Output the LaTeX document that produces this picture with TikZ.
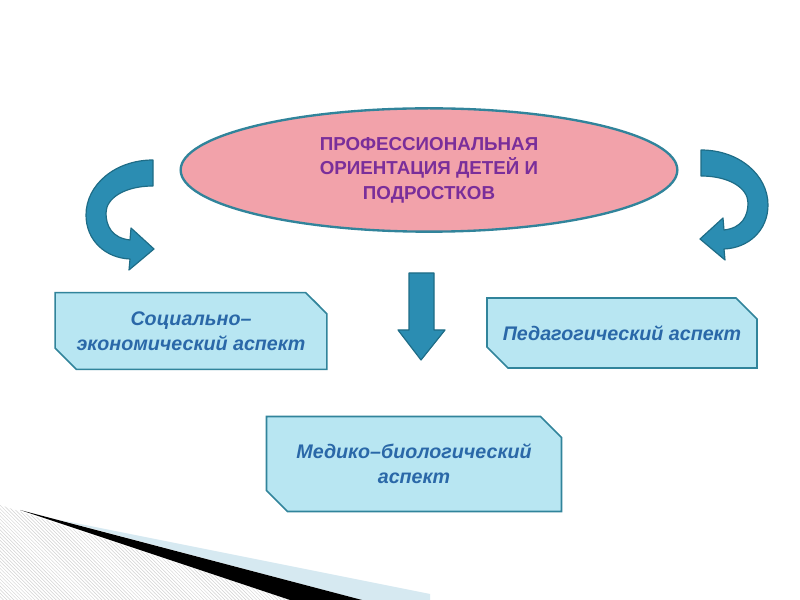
\documentclass[tikz,border=0pt]{standalone}
\usepackage{fontspec}
\newfontfamily\slidefont{Liberation Sans}
\usepackage{tikz}
\usetikzlibrary{positioning,shapes.geometric,shapes.misc,patterns}
\definecolor{SlideTeal}{HTML}{31849B}
\definecolor{SlidePink}{HTML}{F2A2AA}
\definecolor{SlidePurple}{HTML}{7A2E9A}
\definecolor{SlideSky}{HTML}{B8E6F2}
\definecolor{SlideBlue}{HTML}{2A68A8}
\definecolor{ArrowFill}{HTML}{2B8DB2}
\definecolor{ArrowRim}{HTML}{1E6C86}
\definecolor{BandBlue}{HTML}{D6E9F1}

\begin{document}
\begin{tikzpicture}[
  x=0.03cm,y=-0.03cm,
  topic/.style={ellipse,draw=SlideTeal,line width=2pt,fill=SlidePink,minimum width=14.9cm,minimum height=3.7cm,align=center,text=SlidePurple,font=\slidefont\bfseries\fontsize{16}{20.8}\selectfont},
  aspect/.style={chamfered rectangle,chamfered rectangle corners={north east,south west},chamfered rectangle xsep=9pt,chamfered rectangle ysep=9pt,draw=SlideTeal,line width=1.4pt,fill=SlideSky,align=center,text=SlideBlue,font=\slidefont\bfseries\itshape\fontsize{16.8}{21.5}\selectfont},
  blockarrow/.style={draw=ArrowRim,line width=1pt,fill=ArrowFill,line join=round}
]
  \useasboundingbox[fill=white] (0,0) rectangle (800,600);

  % corner decoration
  \fill[pattern=north west lines,pattern color=gray!35] (0,505) -- (290,600) -- (0,600) -- cycle;
  \fill[BandBlue] (60,520) -- (430,594) -- (430,600) -- (362,600) -- cycle;
  \fill[black] (20,510) -- (362,600) -- (290,600) -- cycle;

  \node[topic] (topic) at (429,170) {ПРОФЕССИОНАЛЬНАЯ\\ОРИЕНТАЦИЯ ДЕТЕЙ И\\ПОДРОСТКОВ};
  \node[aspect,minimum width=8.15cm,minimum height=2.3cm] (social) at (191,331) {Социально–\\экономический аспект};
  \node[aspect,minimum width=8.1cm,minimum height=2.1cm] (pedag) at (622,333) {Педагогический аспект};
  \node[aspect,minimum width=8.85cm,minimum height=2.85cm] (medic) at (414,464) {Медико–биологический\\аспект};

  % bent arrows at both sides of the topic
  \foreach \sx/\dy in {1/0,-1/-10}{
    \begin{scope}[shift={(427,\dy)},xscale=\sx]
      \draw[blockarrow] (-274,160) .. controls (-312,160) and (-341,185) .. (-341,215)
        .. controls (-341,240) and (-322,258) .. (-297,259)
        -- (-298,270) -- (-273,249) -- (-296,228) -- (-297,240)
        .. controls (-315,238) and (-321,226) .. (-321,213)
        .. controls (-321,198) and (-302,186) .. (-274,186) -- cycle;
    \end{scope}
  }

  % down arrow
  \draw[blockarrow] (409,273) -- (434,273) -- (434,330) -- (445,330) -- (421,360) -- (398,330) -- (409,330) -- cycle;
\end{tikzpicture}
\end{document}
